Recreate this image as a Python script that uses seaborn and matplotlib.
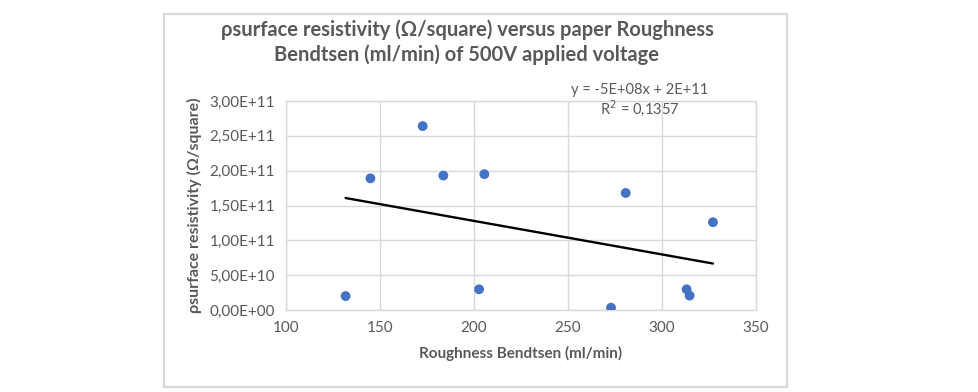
import numpy as np
import pandas as pd
import seaborn as sns
import matplotlib.pyplot as plt
import matplotlib.patches as mpatches
from matplotlib.ticker import FuncFormatter, MultipleLocator

# ── Data ──────────────────────────────────────────────────────
roughness = [131.7, 144.9, 172.7, 183.7, 205.5, 202.7, 280.7, 327.1, 313.1, 314.7, 272.9]
resistivity = [2.00e10, 1.89e11, 2.64e11, 1.93e11, 1.95e11, 2.97e10,
               1.68e11, 1.26e11, 2.97e10, 2.06e10, 3.3e9]

title = ("ρsurface resistivity (Ω/square) versus paper Roughness\n"
         "Bendtsen (ml/min) of 500V applied voltage")
x_label = "Roughness Bendtsen (ml/min)"
y_label = "ρsurface resistivity (Ω/square)"
eq_text = "y = -5E+08x + 2E+11"
r2_text = "R$^2$ = 0,1357"

df = pd.DataFrame({"roughness": roughness, "resistivity": resistivity})

sns.set_style("white")
plt.rcParams["font.family"] = ["Lato", "DejaVu Sans"]
grey = "#595959"
blue = "#4472c4"

fig = plt.figure(figsize=(9.79, 3.92), dpi=100)
ax = fig.add_axes([286 / 979, 1 - 310 / 392, 470 / 979, 209 / 392])

# chart frame
fig.patches.append(mpatches.Rectangle(
    (164 / 979, 1 - 387 / 392), (787 - 164) / 979, (387 - 14) / 392,
    transform=fig.transFigure, fill=False, edgecolor="#d9d9d9", linewidth=1.6))

sns.regplot(data=df, x="roughness", y="resistivity", ci=None, ax=ax,
            scatter_kws={"s": 50, "color": blue, "edgecolor": "none",
                         "alpha": 1, "zorder": 3},
            line_kws={"color": "black", "linewidth": 1.7, "zorder": 2})

ax.set_xlim(100, 350)
ax.set_ylim(0, 3e11)
ax.xaxis.set_major_locator(MultipleLocator(50))
ax.yaxis.set_major_locator(MultipleLocator(5e10))
ax.yaxis.set_major_formatter(FuncFormatter(lambda v, p: f"{v:.2E}".replace(".", ",")))
ax.grid(True, color="#d9d9d9", linewidth=1)
for s in ax.spines.values():
    s.set_color("#d9d9d9")
    s.set_linewidth(1)
ax.tick_params(axis="both", colors=grey, labelsize=11, length=0, pad=8)

ax.set_xlabel(x_label, fontsize=11, fontweight="bold", color=grey, labelpad=8)
ax.set_ylabel(y_label, fontsize=11.5, fontweight="bold", color=grey, labelpad=5)

fig.text(467 / 979, 1 - 42 / 392, title, ha="center", va="center",
         fontsize=14.5, fontweight="bold", color=grey, linespacing=1.3)
fig.text(640 / 979, 1 - 90 / 392, eq_text, ha="center", va="center",
         fontsize=10.5, color=grey)
fig.text(640 / 979, 1 - 108 / 392, r2_text, ha="center", va="center",
         fontsize=10.5, color=grey)

fig.savefig("out.png", dpi=100)
